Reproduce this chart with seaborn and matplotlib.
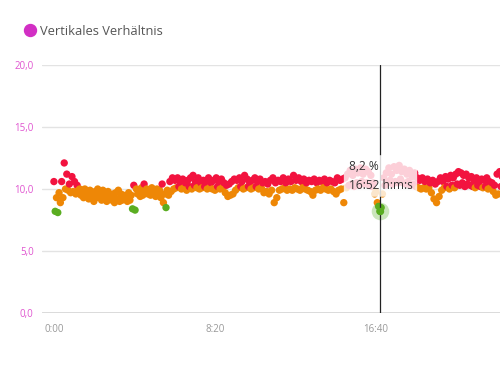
import pandas as pd
import numpy as np
import matplotlib
matplotlib.use('Agg')
from matplotlib import pyplot as plt
from matplotlib.lines import Line2D
import seaborn as sns

# Vertikales Verhaeltnis (%), one upper and one lower reading every 8 minutes
step_min = 8
hi = [10.6, 9.3, 9.7, 10.6, 12.1, 11.2, 10.4, 11.0, 10.6, 10.3,
      10.0, 9.9, 10.0, 9.8, 9.9, 9.7, 9.8, 10.0, 9.7, 9.9,
      9.6, 9.8, 9.5, 9.6, 9.7, 9.9, 9.6, 9.5, 9.4, 9.7,
      9.5, 10.3, 10.0, 9.8, 10.1, 10.4, 10.0, 9.9, 10.1, 9.8,
      10.0, 9.9, 10.4, 9.6, 9.9, 10.6, 10.9, 10.7, 10.9, 10.6,
      10.8, 10.5, 10.7, 10.9, 11.1, 10.6, 10.9, 10.5, 10.7, 10.6,
      10.9, 10.5, 10.7, 10.9, 10.6, 10.8, 10.5, 10.3, 10.4, 10.6,
      10.8, 10.7, 10.9, 10.6, 11.1, 10.8, 10.5, 10.7, 10.9, 10.6,
      10.8, 10.5, 10.6, 10.4, 10.7, 10.9, 10.5, 10.7, 10.6, 10.9,
      10.5, 10.8, 10.6, 11.1, 10.7, 10.9, 10.6, 10.8, 10.5, 10.7,
      10.6, 10.8, 10.5, 10.7, 10.6, 10.8, 10.5, 10.7, 10.6, 10.5,
      10.9, 10.7, 10.8, 10.9, 11.2, 11.5, 11.1, 11.6, 11.3, 11.7,
      11.2, 11.6, 11.4, 11.1, 10.5, 9.8, 8.6, 8.5, 10.9, 11.3,
      11.7, 11.2, 11.8, 11.5, 11.9, 11.4, 11.6, 11.2, 11.5, 11.0,
      11.3, 10.9, 10.7, 10.9, 10.6, 10.8, 10.5, 10.7, 10.4, 10.6,
      10.9, 10.6, 11.0, 10.8, 11.1, 10.9, 11.2, 11.4, 11.3, 11.1,
      11.2, 10.9, 11.0, 10.7, 10.9, 10.6, 10.8, 10.7, 10.9, 10.6,
      10.5, 10.3, 11.2, 11.4, 11.0, 10.8]
lo = [8.2, 8.1, 8.9, 9.3, 10.0, 9.9, 9.7, 9.8, 9.6, 9.9,
      9.5, 9.3, 9.6, 9.2, 9.4, 9.0, 9.3, 9.5, 9.1, 9.4,
      9.0, 9.3, 9.1, 8.9, 9.2, 9.0, 9.1, 9.2, 9.0, 9.1,
      8.4, 8.3, 9.6, 9.4, 9.5, 9.7, 9.6, 9.5, 9.7, 9.4,
      9.6, 9.3, 8.9, 8.5, 9.5, 9.8, 10.0, 10.1, 10.2, 10.0,
      10.1, 9.9, 10.2, 10.0, 10.3, 10.1, 10.0, 10.1, 10.2, 10.0,
      10.1, 10.0, 9.9, 10.2, 10.0, 10.1, 9.7, 9.4, 9.5, 9.6,
      9.9, 10.1, 10.2, 10.0, 10.1, 10.2, 10.0, 10.1, 10.2, 10.0,
      10.1, 9.7, 9.8, 9.6, 9.9, 8.9, 9.3, 9.9, 10.0, 10.1,
      9.9, 10.0, 9.9, 10.1, 10.0, 9.9, 10.1, 10.0, 9.9, 9.8,
      9.5, 9.9, 10.0, 9.9, 10.1, 10.0, 9.9, 10.0, 9.8, 9.6,
      9.9, 10.0, 8.9, 10.1, 10.3, 10.4, 10.2, 10.5, 10.3, 10.6,
      10.4, 10.5, 10.3, 10.2, 9.6, 8.9, 8.2, 9.6, 10.3, 10.5,
      10.7, 10.4, 10.6, 10.5, 10.8, 10.5, 10.4, 10.6, 10.3, 10.4,
      10.2, 10.1, 10.0, 10.1, 10.0, 10.1, 9.7, 9.2, 8.9, 9.4,
      9.9, 10.1, 10.2, 10.0, 10.3, 10.1, 10.4, 10.3, 10.5, 10.2,
      10.4, 10.3, 10.2, 10.1, 10.3, 10.2, 10.1, 10.2, 10.0, 10.1,
      9.8, 9.5, 9.6, 10.2, 10.1, 10.0]

x_ticks = [0, 500, 1000]
x_labels = ['0:00', '8:20', '16:40']
y_ticks = [0, 5, 10, 15, 20]
y_labels = ['0,0', '5,0', '10,0', '15,0', '20,0']

hover_t = 1012
hover_v = 8.2
hover_text = '8,2 %\n16:52 h:m:s'

RED = '#f2133f'
ORANGE = '#ee8706'
GREEN = '#5aad21'
MAGENTA = '#d22fc4'

# interleave: upper reading at t, lower at t + 4 min
t = []
v = []
for i in range(len(hi)):
    t.append(i * step_min)
    v.append(hi[i])
    t.append(i * step_min + step_min / 2)
    v.append(lo[i])
df = pd.DataFrame({'t': t, 'v': v})
df['zone'] = pd.cut(df.v, bins=[0, 8.65, 10.15, 30], labels=['green', 'orange', 'red'])

sns.set_style('white')
plt.rcParams['font.family'] = ['Open Sans', 'DejaVu Sans']

fig = plt.figure(figsize=(5, 3.75), dpi=100)
ax = fig.add_axes([0.084, 0.1653, 0.916, 0.6614])

sns.scatterplot(data=df, x='t', y='v', hue='zone', palette={'green': GREEN, 'orange': ORANGE, 'red': RED},
                s=28, linewidth=0, legend=False, ax=ax, zorder=3)

ax.set_xlim(-37, 1385)
ax.set_ylim(0, 20)
ax.set_yticks(y_ticks)
ax.set_yticklabels(y_labels, color='#e055d0', fontsize=7)
ax.set_xticks(x_ticks)
ax.set_xticklabels(x_labels, color='#999999', fontsize=7)
ax.tick_params(axis='both', length=0, pad=6)
ax.tick_params(axis='x', pad=8)
ax.set_xlabel('')
ax.set_ylabel('')
ax.grid(axis='y', color='#e3e3e3', linewidth=1)
ax.grid(axis='x', visible=False)
for s in ax.spines.values():
    s.set_visible(False)
ax.axhline(0, color='#d6d6d6', linewidth=1.2, zorder=2)

# hover marker
ax.axvline(hover_t, color='#222222', linewidth=0.9, zorder=4)
ax.scatter([hover_t], [hover_v], s=160, color='#b5dca0', alpha=0.7, linewidth=0, zorder=2)
ax.scatter([hover_t], [hover_v], s=28, color=GREEN, linewidth=0, zorder=6)
ax.text(915, 11.05, hover_text, fontsize=8.6, color='#333333', linespacing=1.6, va='center', ha='left', zorder=5,
        bbox=dict(boxstyle='round,pad=0.4', facecolor='white', edgecolor='none', alpha=0.8))

handle = Line2D([], [], marker='o', linestyle='', color=MAGENTA, markersize=8.6)
fig.legend(handles=[handle], labels=['Vertikales Verhältnis'], loc='center left', bbox_to_anchor=(0.035, 0.917),
           frameon=False, fontsize=9.3, handletextpad=0.15, handlelength=1.2, labelcolor='#555555', borderaxespad=0)

plt.savefig('out.png', dpi=100)
